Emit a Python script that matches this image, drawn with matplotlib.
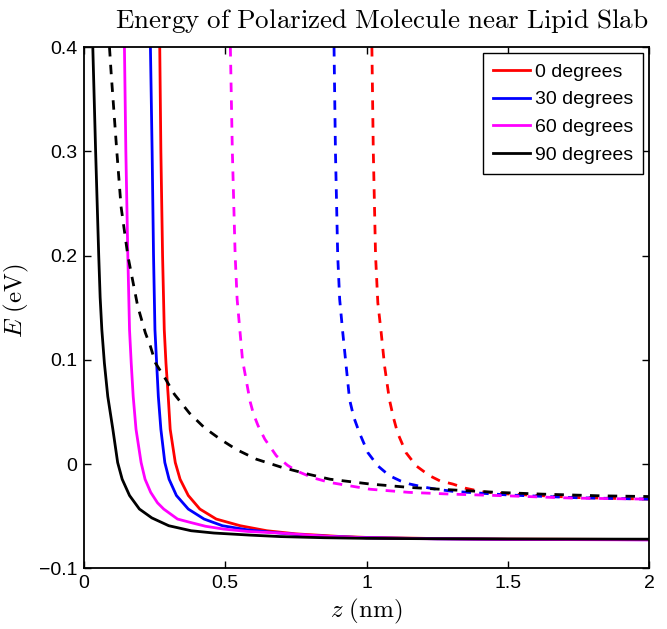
"""
Energy of polarized molecule near lipid slab -- replot
"""

import matplotlib
matplotlib.use('Agg')  # no GUI
import matplotlib.pyplot as plt

plt.rcParams['mathtext.fontset'] = 'cm'
plt.rcParams['font.family'] = ['Liberation Sans', 'DejaVu Sans']

# === DATA ===

labels = ['0 degrees', '30 degrees', '60 degrees', '90 degrees']
colors = ['#ff0000', '#0000ff', '#ff00ff', '#000000']

# solid curves
z_red = [0.268, 0.272, 0.278, 0.284, 0.29, 0.298, 0.305, 0.323, 0.34, 0.369, 0.41, 0.468,
         0.553, 0.647, 0.75, 0.9, 1.0, 1.25, 1.5, 2.0]
e_red = [0.40, 0.30, 0.20, 0.129, 0.097, 0.065, 0.0335, 0.0016, -0.0144, -0.030, -0.043, -0.0526,
         -0.059, -0.0638, -0.0668, -0.0692, -0.0702, -0.0713, -0.0718, -0.0722]

z_blue = [0.235, 0.241, 0.246, 0.251, 0.257, 0.263, 0.272, 0.286, 0.301, 0.327, 0.369, 0.425,
          0.49, 0.58, 0.67, 0.8, 1.0, 1.25, 1.5, 2.0]
e_blue = [0.40, 0.30, 0.20, 0.129, 0.097, 0.065, 0.0335, 0.0016, -0.0144, -0.030, -0.043, -0.0526,
          -0.059, -0.0630, -0.0655, -0.0685, -0.0705, -0.0715, -0.072, -0.0724]

z_mag = [0.143, 0.148, 0.155, 0.161, 0.167, 0.174, 0.184, 0.202, 0.216, 0.236, 0.26, 0.282,
         0.331, 0.376, 0.43, 0.494, 0.58, 0.694, 0.85, 1.0, 1.25, 1.5, 2.0]
e_mag = [0.40, 0.30, 0.20, 0.129, 0.097, 0.065, 0.0335, 0.0016, -0.0144, -0.027, -0.037, -0.043,
         -0.0526, -0.0558, -0.0595, -0.0622, -0.0645, -0.066, -0.069, -0.0706, -0.0716, -0.0721,
         -0.0726]

z_blk = [0.031, 0.041, 0.052, 0.057, 0.063, 0.072, 0.084, 0.102, 0.119, 0.135, 0.161, 0.196,
         0.24, 0.30, 0.379, 0.46, 0.588, 0.694, 0.85, 1.0, 1.25, 1.5, 2.0]
e_blk = [0.40, 0.30, 0.20, 0.16, 0.129, 0.097, 0.065, 0.0335, 0.0016, -0.0144, -0.030, -0.043,
         -0.0515, -0.059, -0.0638, -0.066, -0.068, -0.0694, -0.0705, -0.0711, -0.0715, -0.0717,
         -0.0719]

# dashed curves
zd_red = [1.019, 1.024, 1.032, 1.04, 1.052, 1.064, 1.081, 1.095, 1.11, 1.14, 1.176, 1.223, 1.26,
          1.305, 1.35, 1.41, 1.5, 1.75, 2.0]
ed_red = [0.40, 0.30, 0.20, 0.155, 0.126, 0.094, 0.062, 0.045, 0.030, 0.011, -0.0016, -0.011,
          -0.016, -0.019, -0.023, -0.0265, -0.0285, -0.032, -0.0335]

zd_blue = [0.885, 0.89, 0.898, 0.905, 0.916, 0.928, 0.94, 0.955, 0.975, 1.005, 1.04, 1.081, 1.12,
           1.153, 1.2, 1.247, 1.305, 1.5, 1.75, 2.0]
ed_blue = [0.40, 0.30, 0.20, 0.158, 0.126, 0.094, 0.062, 0.045, 0.030, 0.011, -0.0016, -0.011,
           -0.016, -0.019, -0.0218, -0.024, -0.026, -0.0295, -0.0322, -0.0335]

zd_mag = [0.518, 0.525, 0.535, 0.542, 0.561, 0.588, 0.60, 0.616, 0.64, 0.681, 0.72, 0.752, 0.81,
          0.87, 1.012, 1.15, 1.30, 1.494, 1.73, 2.0]
ed_mag = [0.40, 0.30, 0.20, 0.158, 0.10, 0.06, 0.048, 0.037, 0.024, 0.008, -0.001, -0.0064,
          -0.013, -0.0175, -0.024, -0.027, -0.0287, -0.0303, -0.0325, -0.0335]

zd_blk = [0.09, 0.096, 0.116, 0.131, 0.155, 0.19, 0.217, 0.235, 0.253, 0.29, 0.32, 0.373, 0.426,
          0.482, 0.54, 0.61, 0.70, 0.80, 0.871, 1.012, 1.153, 1.30, 1.46, 1.623, 1.825, 2.0]
ed_blk = [0.40, 0.375, 0.30, 0.247, 0.20, 0.1515, 0.126, 0.113, 0.097, 0.081, 0.067, 0.049, 0.035,
          0.024, 0.014, 0.0048, -0.003, -0.010, -0.0144, -0.019, -0.0223, -0.0246, -0.027,
          -0.0287, -0.0303, -0.031]

solid = [(z_red, e_red), (z_blue, e_blue), (z_mag, e_mag), (z_blk, e_blk)]
dashed = [(zd_red, ed_red), (zd_blue, ed_blue), (zd_mag, ed_mag), (zd_blk, ed_blk)]

# === PLOT ===

fig = plt.figure(figsize=(6.67, 6.29), dpi=100)
ax = fig.add_axes([0.126, 0.0962, 0.847, 0.829])

for (z, e), c, lab in zip(solid, colors, labels):
    ax.plot(z, e, color=c, linewidth=2.0, label=lab, solid_joinstyle='round')

for (z, e), c in zip(dashed, colors):
    ax.plot(z, e, color=c, linewidth=2.0, linestyle=(0, (3.4, 3.0)), dash_joinstyle='round')

ax.set_xlim(0, 2)
ax.set_ylim(-0.1, 0.4)
ax.set_xticks([0, 0.5, 1, 1.5, 2])
ax.set_xticklabels(['0', '0.5', '1', '1.5', '2'])
ax.set_yticks([-0.1, 0, 0.1, 0.2, 0.3, 0.4])
ax.set_yticklabels(['\u22120.1', '0', '0.1', '0.2', '0.3', '0.4'])
ax.tick_params(direction='in', top=True, right=True, length=5, width=1.0, labelsize=14, pad=5)
for s in ax.spines.values():
    s.set_linewidth(1.3)

ax.set_title(r'$\mathrm{Energy\ of\ Polarized\ Molecule\ near\ Lipid\ Slab}$', fontsize=19.5,
             pad=14, x=0.526)
ax.set_xlabel(r'$z\ (\mathrm{nm})$', fontsize=18, labelpad=3)
ax.set_ylabel(r'$E\ (\mathrm{eV})$', fontsize=18)
ax.yaxis.set_label_coords(-0.094, 0.513)

leg = ax.legend(loc='upper right', bbox_to_anchor=(0.989, 0.988), fontsize=14,
                fancybox=False, framealpha=1, edgecolor='k', handlelength=1.9,
                handletextpad=0.25, labelspacing=0.52, borderpad=0.5, borderaxespad=0)
leg.get_frame().set_linewidth(1.0)

plt.savefig('out.png', dpi=100)
plt.close()
